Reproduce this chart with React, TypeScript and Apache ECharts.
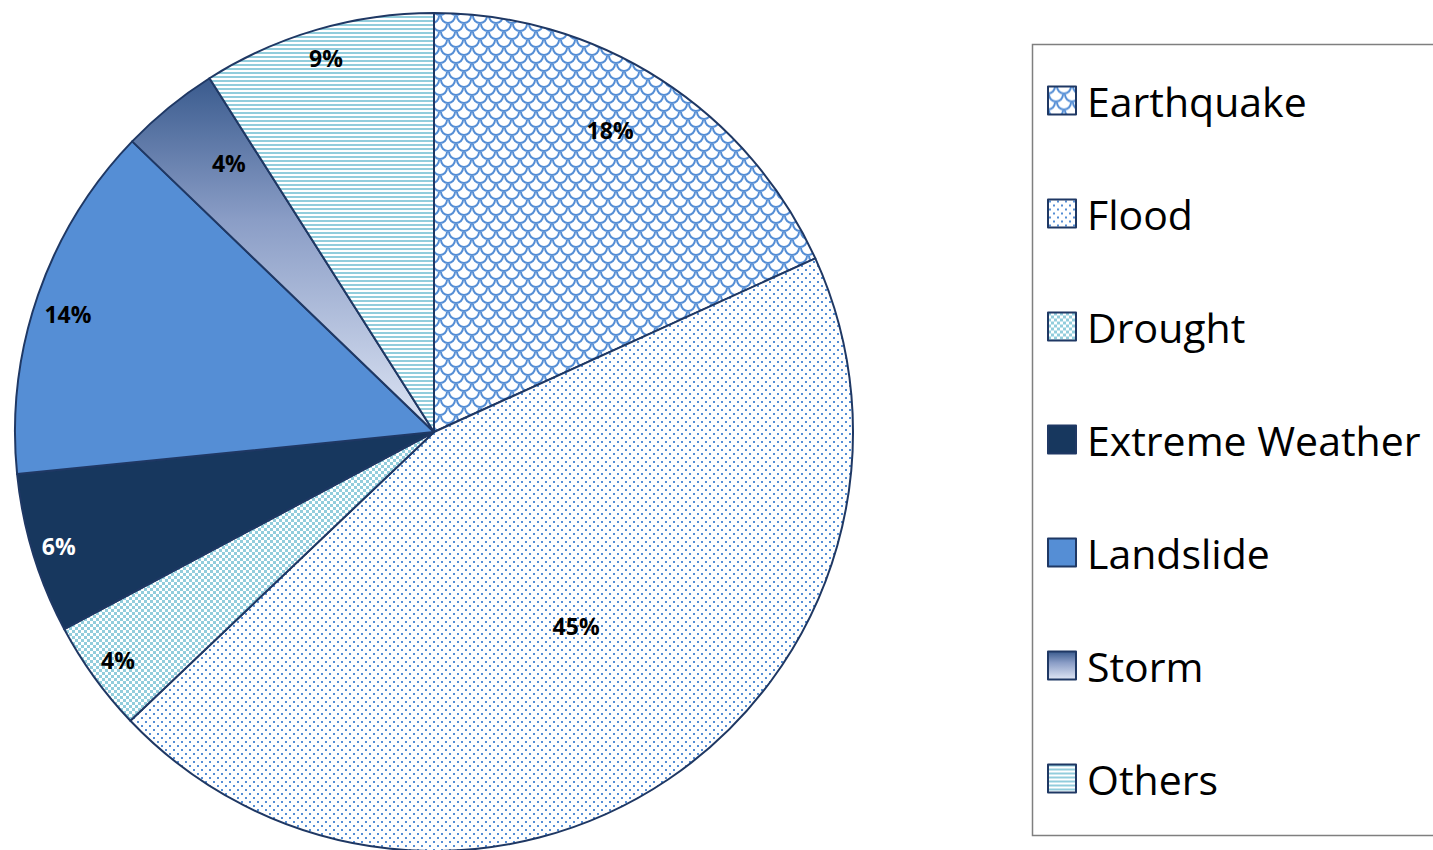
import React, { useEffect, useRef } from "react";
import * as echarts from "echarts";

const categories = ["Earthquake", "Flood", "Drought", "Extreme Weather", "Landslide", "Storm", "Others"];
const percents = [18.2, 44.7, 4.3, 6.2, 13.8, 3.8, 9.0];
const labelRadius = [0.834, 0.574, 0.93, 0.936, 0.918, 0.807, 0.929];
const labelAngleShift = [-2.5, -2.2, 0, 0, -1.2, 1.9, 0.1];
const labelColors = ["#000", "#000", "#000", "#fff", "#000", "#000", "#000"];

const CX = 434;
const CY = 432;
const R = 419;

function makeCanvas(w: number, h: number, draw: (ctx: CanvasRenderingContext2D) => void) {
  const c = document.createElement("canvas");
  c.width = w;
  c.height = h;
  const ctx = c.getContext("2d")!;
  ctx.fillStyle = "#ffffff";
  ctx.fillRect(0, 0, w, h);
  draw(ctx);
  return c;
}

function pattern(c: HTMLCanvasElement) {
  return { image: c, repeat: "repeat", imageWidth: c.width, imageHeight: c.height } as any;
}

export default function App() {
  const ref = useRef<HTMLDivElement>(null);
  useEffect(() => {
    const chart = echarts.init(ref.current!, undefined, { renderer: "svg" });
    const blue = "#558ed5";
    const teal = "#92cddc";

    const quake = makeCanvas(16, 16, (ctx) => {
      ctx.strokeStyle = blue;
      ctx.lineWidth = 2;
      const centers = [[0, 0], [16, 0], [8, 8], [0, 16], [16, 16]];
      centers.forEach(([x, y]) => {
        ctx.beginPath();
        ctx.arc(x, y, 7, 0, Math.PI);
        ctx.stroke();
      });
    });
    const flood = makeCanvas(8, 8, (ctx) => {
      ctx.fillStyle = blue;
      ctx.fillRect(1, 1, 2, 2);
      ctx.fillRect(5, 5, 2, 2);
    });
    const drought = makeCanvas(6, 6, (ctx) => {
      ctx.fillStyle = teal;
      ctx.fillRect(0, 0, 3, 3);
      ctx.fillRect(3, 3, 3, 3);
    });
    const others = makeCanvas(8, 4, (ctx) => {
      ctx.fillStyle = teal;
      ctx.fillRect(0, 0, 8, 2);
    });

    const fills: any[] = [
      pattern(quake),
      pattern(flood),
      pattern(drought),
      "#17375e",
      "#558ed5",
      new echarts.graphic.LinearGradient(0, 0, 0, 1, [
        { offset: 0, color: "#3a5b8e" },
        { offset: 0.4, color: "#8a9dc6" },
        { offset: 1, color: "#dfe6f5" },
      ]),
      pattern(others),
    ];

    const total = percents.reduce((a, b) => a + b, 0);

    chart.setOption({
      animation: false,
      legend: {
        orient: "vertical",
        left: 1047,
        top: 80,
        padding: 0,
        itemWidth: 28,
        itemHeight: 28,
        itemGap: 72,
        icon: "rect",
        selectedMode: false,
        textStyle: {
          fontFamily: "Open Sans",
          fontSize: 41,
          color: "#000",
          padding: [0, 0, 0, 6],
        },
        data: categories,
      },
      graphic: [
        {
          type: "rect",
          shape: { x: 1032.5, y: 44.5, width: 420, height: 791 },
          style: { fill: "none", stroke: "#7f7f7f", lineWidth: 1.5 },
          silent: true,
        },
      ],
      series: [
        {
          type: "pie",
          center: [CX, CY],
          radius: R,
          startAngle: 90,
          clockwise: true,
          itemStyle: { borderColor: "#1f3864", borderWidth: 2 },
          label: {
            show: true,
            position: "inside",
            formatter: (p: any) => Math.round(p.value) + "%",
            fontFamily: "Open Sans",
            fontWeight: "bold",
            fontSize: 23,
          },
          labelLine: { show: false },
          labelLayout: (params: any) => {
            const i = params.dataIndex;
            let before = 0;
            for (let k = 0; k < i; k++) before += percents[k];
            const mid = ((before + percents[i] / 2) / total) * Math.PI * 2 + (labelAngleShift[i] * Math.PI) / 180;
            const r = R * labelRadius[i];
            return {
              x: CX + r * Math.sin(mid),
              y: CY - r * Math.cos(mid),
              align: "center",
              verticalAlign: "middle",
            };
          },
          emphasis: { disabled: true },
          data: categories.map((name, i) => ({
            name,
            value: percents[i],
            itemStyle: { color: fills[i] },
            label: { color: labelColors[i] },
          })),
        },
      ],
    });
    return () => chart.dispose();
  }, []);
  return (
    <div
      ref={ref}
      style={{ position: "absolute", left: 0, top: 0, width: 1433, height: 850, background: "#fff" }}
    />
  );
}
